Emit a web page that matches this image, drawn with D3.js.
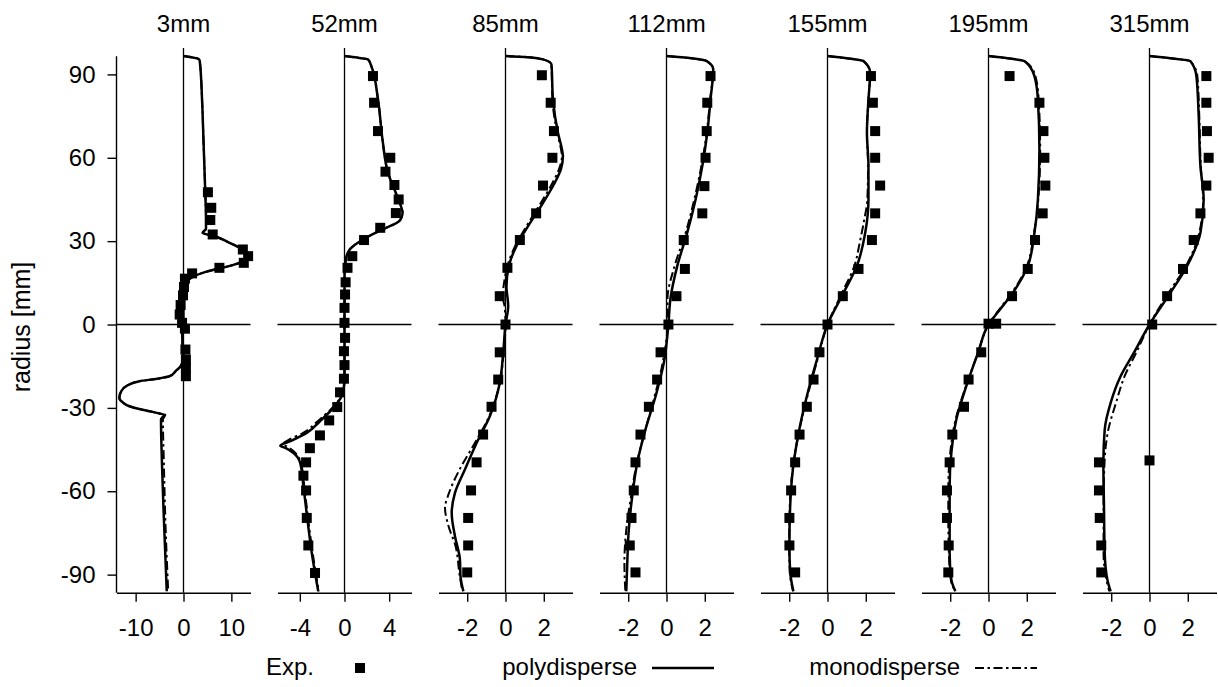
<!DOCTYPE html>
<html>
<head>
<meta charset="utf-8">
<script src="https://cdn.jsdelivr.net/npm/d3@7"></script>
<style>
body { margin: 0; background: #fff; }
text { font-family: "Liberation Sans", Arial, Helvetica, sans-serif; fill: #000; }
</style>
</head>
<body>
<svg id="svg"></svg>
<script>
// measuring stations and their axes
var stations = ["3mm", "52mm", "85mm", "112mm", "155mm", "195mm", "315mm"];
var xDomains = [[-14, 14], [-6, 6], [-3.5, 3.5], [-3.5, 3.5], [-3.5, 3.5], [-3.5, 3.5], [-3.5, 3.5]];
var xTicks = [[-10, 0, 10], [-4, 0, 4], [-2, 0, 2], [-2, 0, 2], [-2, 0, 2], [-2, 0, 2], [-2, 0, 2]];
var yTicks = [-90, -60, -30, 0, 30, 60, 90];
var legendLabels = ["Exp.", "polydisperse", "monodisperse"];

// [radius, value] pairs
var exp3mm = [[47.6,5.1],[42,5.8],[37.6,5.6],[32.4,6.1],[27,12.4],[24.6,13.5],[22.2,12.6],[20.4,7.5],[18.4,1.8],
    [16.5,0.3],[13.5,0.1],[10.5,-0.1],[7,-0.6],[3.6,-0.8],[0.6,-0.3],[-1.5,0.3],[-9,0.4],[-12.6,0.5],[-15.5,0.5],[-18.6,0.5]];
var poly3mm = [[96.6,0],[95.5,3.2],[94.8,3.4],[80,3.9],[65,4.2],[50,4.5],[38,4.7],[34.5,4.7],[33,4.0],[31.6,6.8],
    [29.5,9.5],[27.5,11.8],[25.5,12.9],[24,13.1],[22.5,12.2],[21,9.5],[19.8,6.5],[18.6,4.0],[17.2,2.0],[15.5,0.8],
    [12.6,0.2],[6.6,-0.5],[0,-0.3],[-8,-0.2],[-12,0],[-15,-0.6],[-16.5,-1.5],[-18.6,-2.9],[-19.5,-5.5],[-20.4,-9.2],
    [-22,-11.8],[-24,-13],[-26.4,-13.4],[-28,-12.7],[-29.4,-11.3],[-30.5,-9],[-31.2,-7.1],[-32,-5],[-32.5,-4.0],
    [-33.2,-4.3],[-34.2,-4.7],[-50,-4.5],[-70,-4.1],[-96,-3.5]];
var mono3mm = [[96.6,0],[95.5,3.2],[94.8,3.4],[80,3.9],[65,4.2],[50,4.5],[38,4.7],[34.5,4.7],[33,4.0],[31.6,6.8],
    [29.5,9.5],[27.5,11.8],[25.5,12.9],[24,13.1],[22.5,12.2],[21,9.5],[19.8,6.5],[18.6,4.0],[17.2,2.0],[15.5,0.8],
    [12.6,0.2],[6.6,-0.5],[0,-0.3],[-8,-0.2],[-12,0],[-15,-0.6],[-16.5,-1.5],[-18.6,-2.9],[-19.5,-5.5],[-20.4,-9.2],
    [-22,-11.8],[-24,-13],[-26.4,-13.4],[-28,-12.7],[-29.4,-11.3],[-30.5,-9],[-31.2,-7.1],[-32,-5],[-32.5,-3.8],
    [-33.2,-4.0],[-34.2,-4.3],[-50,-4.1],[-70,-3.8],[-96,-3.2]];

var exp52mm = [[89.4,2.55],[79.8,2.65],[69.6,3.0],[60,4.1],[55,3.67],[50.2,4.47],[45,4.85],[40.1,4.6],[34.8,3.2],
    [30.4,1.75],[24.6,0.7],[20.4,0.27],[15.2,0.1],[10.8,0.05],[6,0],[0.6,0],[-4.8,0.05],[-9.6,-0.05],[-14.6,0],
    [-19.5,-0.05],[-24.4,-0.4],[-29.7,-0.65],[-34.5,-1.37],[-39.9,-2.2],[-44.5,-3.1],[-49.6,-3.44],[-54.4,-3.68],
    [-59.7,-3.44],[-69.6,-3.38],[-79.5,-3.24],[-89.4,-2.64]];
var poly52mm = [[96.6,0],[96,1.2],[95.4,2.1],[93,2.4],[81,3.0],[66.6,3.4],[54.6,3.9],[47.3,4.6],[42,5.1],[40.2,5.2],
    [38.5,5.1],[37.2,4.9],[34.2,3.4],[30.6,1.65],[27,0.47],[23.4,0.12],[17,0],[0,0],[-20,0],[-25.8,-0.27],[-30,-1.0],
    [-34.8,-2.2],[-39,-3.38],[-42,-4.86],[-43.6,-5.75],[-44.4,-5.3],[-46.2,-4.57],[-49.8,-3.97],[-58.2,-3.68],
    [-70.2,-3.32],[-82.2,-2.93],[-96,-2.35]];
var mono52mm = [[96.6,0],[96,1.2],[95.4,2.1],[93,2.4],[81,3.0],[66.6,3.4],[54.6,3.9],[47.3,4.6],[42,5.1],[40.2,5.2],
    [38.5,5.1],[37.2,4.9],[34.2,3.4],[30.6,1.65],[27,0.47],[23.4,0.12],[17,0],[0,0],[-20,0],[-25.8,-0.3],[-30,-1.1],
    [-34.8,-2.4],[-39,-3.7],[-41.5,-5.0],[-43,-5.5],[-44,-5.1],[-46.2,-4.4],[-49.8,-3.9],[-58.2,-3.6],
    [-70.2,-3.25],[-82.2,-2.85],[-96,-2.3]];

var exp85mm = [[89.7,1.9],[79.8,2.36],[69.6,2.53],[60,2.45],[50,1.96],[40,1.6],[30.4,0.75],[20.4,0.1],[10.2,-0.3],
    [0,0],[-10,-0.3],[-19.8,-0.38],[-29.6,-0.73],[-39.6,-1.17],[-49.6,-1.51],[-59.7,-1.8],[-69.6,-1.95],
    [-79.5,-1.95],[-89.2,-2.0]];
var poly85mm = [[96.6,0],[96.3,1.0],[95.4,1.96],[93.6,2.4],[81,2.48],[69,2.74],[63,2.95],[60.6,3.0],[56,2.9],
    [52.2,2.66],[43.8,1.96],[35.4,1.18],[28.2,0.57],[22.2,0.22],[13.8,0.05],[6.6,0.14],[0,0],[-10.2,-0.12],
    [-21,-0.3],[-33,-0.82],[-42.6,-1.51],[-52.2,-2.12],[-60.6,-2.64],[-67.8,-2.81],[-76.2,-2.64],[-84.6,-2.38],
    [-90.6,-2.35],[-96,-2.2]];
var mono85mm = [[96.6,0],[96.3,1.0],[95.4,1.96],[93.6,2.4],[81,2.45],[69,2.7],[63,2.9],[60.6,2.95],[56,2.8],
    [52.2,2.55],[43.8,1.85],[35.4,1.1],[28.2,0.5],[22.2,0.15],[13.8,-0.1],[10,-0.15],[6.6,-0.05],[0,0],[-10.2,-0.1],
    [-21,-0.3],[-33,-0.85],[-42.6,-1.6],[-52.2,-2.4],[-60.6,-2.95],[-66,-3.16],[-72,-3.0],[-80,-2.6],
    [-90,-2.4],[-96,-2.25]];

var exp112mm = [[89.4,2.3],[79.8,2.13],[69.6,2.1],[60,2.04],[49.8,1.98],[40,1.87],[30.4,0.9],[20,0.96],[10.2,0.52],
    [0,0.1],[-10,-0.31],[-19.8,-0.49],[-29.6,-0.92],[-39.6,-1.36],[-49.6,-1.62],[-59.7,-1.71],[-69.6,-1.83],
    [-79.5,-1.92],[-89.2,-1.62]];
var poly112mm = [[96.6,0],[95.8,1.3],[94.8,2.1],[91.8,2.44],[81,2.3],[69,2.13],[57,1.87],[45,1.52],[33,1.08],
    [21,0.56],[9,0.2],[0,0.1],[-13.8,-0.14],[-25.8,-0.57],[-37.8,-1.1],[-49.8,-1.53],[-61.8,-1.79],[-73.8,-1.97],
    [-85.8,-2.05],[-96,-2.1]];
var mono112mm = [[96.6,0],[95.8,1.3],[94.8,2.1],[91.8,2.44],[81,2.28],[69,2.1],[57,1.82],[45,1.45],[33,1.0],
    [21,0.42],[9,0.05],[0,0.05],[-13.8,-0.2],[-25.8,-0.62],[-37.8,-1.1],[-49.8,-1.55],[-61.8,-1.85],[-73.8,-2.1],
    [-85.8,-2.2],[-96,-2.15]];

var exp155mm = [[89.4,2.27],[79.8,2.37],[69.6,2.49],[60,2.49],[50,2.75],[40,2.49],[30.4,2.32],[20,1.62],[10.2,0.8],
    [0,0],[-10,-0.42],[-19.8,-0.73],[-29.6,-1.08],[-39.6,-1.46],[-49.6,-1.69],[-59.7,-1.9],[-69.6,-1.99],
    [-79.5,-1.99],[-89.2,-1.69]];
var poly155mm = [[96.6,0],[95.8,1.0],[94.8,1.88],[90.6,2.23],[81,2.14],[69,2.06],[57,2.14],[45,2.14],[33,1.97],
    [21,1.53],[11.4,0.84],[0,0],[-12.6,-0.55],[-25.8,-1.08],[-39,-1.51],[-52.2,-1.81],[-65.4,-1.95],[-79.5,-1.99],
    [-89,-1.95],[-96,-1.78]];
var mono155mm = [[96.6,0],[95.8,1.0],[94.8,1.88],[90.6,2.23],[81,2.14],[69,2.06],[57,2.12],[45,2.08],[37,1.9],
    [30,1.7],[21,1.4],[11.4,0.76],[0,0],[-12.6,-0.52],[-25.8,-1.05],[-39,-1.5],[-52.2,-1.82],[-65.4,-1.97],
    [-79.5,-2.0],[-89,-1.97],[-96,-1.8]];

var exp195mm = [[89.4,1.1],[79.8,2.66],[69.6,2.87],[60,2.92],[50,2.97],[40,2.83],[30.4,2.43],[20,2.05],[10.2,1.23],
    [0.3,0.0],[0.3,0.4],[-10,-0.38],[-19.8,-1.04],[-29.6,-1.28],[-39.6,-1.89],[-49.6,-2.03],[-59.7,-2.17],
    [-69.6,-2.17],[-79.5,-2.08],[-89.2,-2.1]];
var poly195mm = [[96.6,0],[95.8,1.0],[94.8,1.87],[89.4,2.4],[81,2.58],[63,2.66],[45,2.58],[33,2.4],[21,2.05],
    [11.4,1.27],[5,0.55],[0,0],[-10.2,-0.55],[-22.2,-1.16],[-34.2,-1.68],[-46.2,-1.94],[-58.2,-2.03],[-70.2,-2.03],
    [-82.2,-2.03],[-91.8,-1.94],[-96,-1.73]];
var mono195mm = [[96.6,0],[95.8,1.0],[94.8,1.9],[89.4,2.45],[81,2.62],[63,2.7],[45,2.6],[33,2.38],[21,2.0],
    [11.4,1.22],[5,0.52],[0,0],[-10.2,-0.55],[-22.2,-1.18],[-34.2,-1.72],[-46.2,-2.0],[-58.2,-2.1],[-70.2,-2.1],
    [-82.2,-2.07],[-91.8,-1.97],[-96,-1.75]];

var exp315mm = [[89.4,2.97],[79.8,2.97],[69.6,3.0],[60,3.09],[50,2.97],[40,2.66],[30.4,2.31],[20,1.75],[10.2,0.92],
    [0,0.14],[-48.9,0],[-49.6,-2.64],[-59.7,-2.64],[-69.6,-2.6],[-79.5,-2.52],[-89.2,-2.52]];
var poly315mm = [[96.6,0],[95.8,1.1],[94.8,2.13],[89.4,2.45],[75,2.57],[57,2.66],[45,2.83],[33,2.66],[21,1.96],
    [11.4,1.09],[0,0],[-10.2,-0.82],[-18.6,-1.51],[-28.2,-2.03],[-37.8,-2.34],[-49.8,-2.41],[-64.2,-2.38],
    [-82.2,-2.34],[-91.8,-2.2],[-96,-2.03]];
var mono315mm = [[96.6,0],[95.8,1.1],[94.8,2.13],[89.4,2.5],[75,2.6],[57,2.68],[45,2.8],[33,2.6],[21,1.9],
    [11.4,1.0],[0,0],[-10.2,-0.7],[-18.6,-1.3],[-28.2,-1.75],[-37.8,-2.15],[-49.8,-2.35],[-64.2,-2.4],
    [-82.2,-2.4],[-91.8,-2.25],[-96,-2.1]];

var expData = [exp3mm, exp52mm, exp85mm, exp112mm, exp155mm, exp195mm, exp315mm];
var polyData = [poly3mm, poly52mm, poly85mm, poly112mm, poly155mm, poly195mm, poly315mm];
var monoData = [mono3mm, mono52mm, mono85mm, mono112mm, mono155mm, mono195mm, mono315mm];

//////////////////////////////////////////////////////////////////////////////
var width = 1218, height = 687;
var panelLeft = 116.5, panelStep = 161, panelWidth = 134;
var fontSize = 24;
var monoDash = "9,3.5,2.5,3.5";

// plain hyphen minus, no decimals
var fmt = function(d) { return String(d); };

var svg = d3.select("#svg")
        .attr("width", width)
        .attr("height", height);

var y = d3.scaleLinear().domain([-96.5, 99.5]).range([592.7, 48]);

for (var i = 0; i < stations.length; ++i) {
    var x0 = panelLeft + i * panelStep;
    var x = d3.scaleLinear().domain(xDomains[i]).range([x0, x0 + panelWidth]);
    var g = svg.append("g");

    // bottom axis
    var xAxis = d3.axisBottom(x).tickValues(xTicks[i]).tickFormat(fmt)
        .tickSize(9).tickPadding(17).tickSizeOuter(0);
    var ax = g.append("g").attr("transform", "translate(0," + y(-96.5) + ")").call(xAxis);
    ax.select(".domain").attr("stroke-width", 1.4);
    ax.selectAll(".tick line").attr("stroke-width", 1.4);
    ax.selectAll("text").style("font-size", fontSize + "px").attr("font-family", null);

    // reference lines through zero
    g.append("line")
        .attr("x1", x(xDomains[i][0])).attr("x2", x(xDomains[i][1]))
        .attr("y1", y(0)).attr("y2", y(0))
        .attr("stroke", "black").attr("stroke-width", 1.4);
    g.append("line")
        .attr("x1", x(0)).attr("x2", x(0))
        .attr("y1", y(99.5)).attr("y2", y(-96.5))
        .attr("stroke", "black").attr("stroke-width", 1.3);

    // left axis only on the first panel
    if (i === 0) {
        var yAxis = d3.axisLeft(y).tickValues(yTicks).tickFormat(fmt)
            .tickSize(9).tickPadding(12).tickSizeOuter(0);
        var ay = g.append("g").attr("transform", "translate(" + x0 + ",0)").call(yAxis);
        ay.select(".domain").attr("d", "M0," + y(96.5) + "V" + y(-96.5)).attr("stroke-width", 1.4);
        ay.selectAll(".tick line").attr("stroke-width", 1.4);
        ay.selectAll("text").style("font-size", fontSize + "px").attr("font-family", null);
    }

    g.append("text")
        .attr("x", x(0)).attr("y", 31.5)
        .attr("text-anchor", "middle")
        .style("font-size", fontSize + "px")
        .text(stations[i]);

    var line = d3.line()
        .x(function(d) { return x(d[1]); })
        .y(function(d) { return y(d[0]); })
        .curve(d3.curveMonotoneY);

    g.append("path").datum(monoData[i])
        .attr("d", line)
        .attr("fill", "none").attr("stroke", "black")
        .attr("stroke-width", 2).attr("stroke-dasharray", monoDash);
    g.append("path").datum(polyData[i])
        .attr("d", line)
        .attr("fill", "none").attr("stroke", "black")
        .attr("stroke-width", 2.5).attr("stroke-linejoin", "round");

    g.selectAll("rect.exp").data(expData[i]).enter().append("rect")
        .attr("class", "exp")
        .attr("x", function(d) { return x(d[1]) - 5; })
        .attr("y", function(d) { return y(d[0]) - 5; })
        .attr("width", 10).attr("height", 10)
        .attr("fill", "black");
}

// y label
svg.append("text")
    .attr("transform", "translate(30,327) rotate(-90)")
    .attr("text-anchor", "middle")
    .style("font-size", "25px")
    .text("radius [mm]");

// legend: equal columns, text right-aligned before a 62px sample
var legY = 668, legStep = 323, legText = 314, legSample = 329, legLen = 62;
var leg = svg.append("g");
legendLabels.forEach(function(lbl, k) {
    var off = k * legStep;
    leg.append("text").attr("x", legText + off).attr("y", legY + 7).attr("text-anchor", "end")
        .style("font-size", fontSize + "px").text(lbl);
    if (k === 0) {
        leg.append("rect").attr("x", legSample + legLen / 2 - 5).attr("y", legY - 5)
            .attr("width", 10).attr("height", 10).attr("fill", "black");
    } else {
        leg.append("line").attr("x1", legSample + off).attr("x2", legSample + off + legLen)
            .attr("y1", legY).attr("y2", legY)
            .attr("stroke", "black").attr("stroke-width", k === 1 ? 2.5 : 2)
            .attr("stroke-dasharray", k === 1 ? null : monoDash);
    }
});
</script>
</body>
</html>
